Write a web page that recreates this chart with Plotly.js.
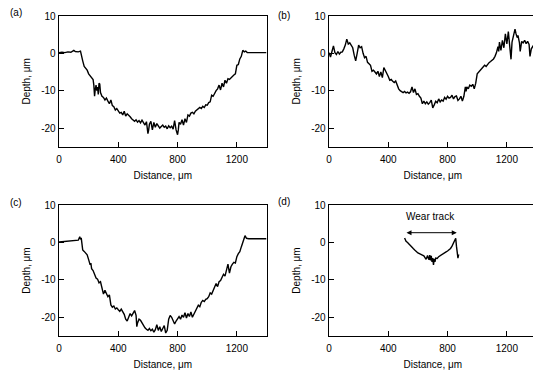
<!DOCTYPE html>
<html>
<head>
<meta charset="utf-8">
<script src="https://cdn.plot.ly/plotly-3.0.1.min.js"></script>
<style>
html,body{margin:0;padding:0;overflow:hidden;background:#fff;}
#chart{width:540px;height:370px;}
</style>
</head>
<body>
<div id="chart"></div>
<script>
// Panel (a)
var xA = [0,20,40,60,80,100,110,130,145,150,160,170,180,190,200,210,220,230,235,240,245,250,255,260,265,270,275,280,290,300,310,320,330,340,350,360,370,380,390,400,410,420,430,440,450,460,470,480,490,500,510,520,530,540,550,560,570,580,590,600,605,610,620,630,640,650,660,670,680,690,700,710,720,730,740,750,760,770,780,790,800,805,810,820,830,840,850,860,870,880,890,900,910,920,930,940,950,960,970,980,990,1000,1010,1020,1030,1040,1050,1060,1070,1080,1090,1100,1110,1120,1130,1140,1150,1160,1170,1180,1190,1200,1210,1220,1230,1240,1250,1260,1270,1300,1350,1400];
var yA = [0.2,0.3,0.2,0.4,0.3,0.8,0.5,0.4,0.6,-0.5,-2,-3.5,-4,-4.5,-5.5,-6,-6.5,-7,-8.5,-11.5,-9.5,-8.5,-10,-9,-11,-8,-8.2,-10.5,-11.5,-11.8,-12.5,-12,-12.8,-13.5,-12.5,-14,-14.3,-15.2,-14.8,-15.5,-16,-15.8,-16.5,-15.5,-16.8,-16.2,-16.5,-17,-17.5,-17.8,-18.2,-17.8,-18.4,-18,-18.6,-17.9,-18.5,-19.2,-18.3,-21.5,-20.5,-19,-18.2,-20.5,-18.5,-19.8,-18.8,-19.5,-20,-19.6,-19.2,-19.8,-19.5,-20.2,-19.4,-19.9,-19.5,-20.3,-18,-20.5,-21.8,-20.5,-18.5,-19,-17.8,-19.2,-17.5,-18.5,-16.5,-16.8,-16,-15.8,-16.2,-15.5,-15.2,-14.8,-14.5,-14.8,-14.2,-14.5,-13.8,-13.9,-13.2,-13,-11.2,-11.5,-10.5,-10,-9.5,-8.5,-9.8,-8,-9,-7.2,-8,-6.8,-7,-6.5,-6.2,-5.8,-5.5,-3.2,-3,-1.5,-0.8,0.8,0.4,0.6,0.2,0.2,0.2,0.2];

// Panel (b)
var xB = [0,10,20,30,40,50,60,70,80,90,100,110,120,125,130,140,150,160,170,180,190,200,210,220,230,240,250,260,270,280,290,300,310,320,330,340,350,360,370,380,390,400,410,420,430,440,450,460,470,480,490,500,510,520,530,540,550,560,570,580,590,600,610,620,630,640,650,660,670,680,690,700,710,720,730,740,750,760,770,780,790,800,810,820,830,840,850,860,870,880,890,900,910,920,925,930,940,950,960,970,980,990,1000,1010,1020,1030,1040,1050,1060,1070,1080,1090,1100,1110,1120,1130,1140,1145,1150,1160,1170,1180,1190,1200,1210,1220,1228,1235,1245,1255,1262,1270,1275,1285,1290,1300,1310,1320,1330,1340,1350,1356,1365,1375,1385,1395];
var yB = [0.2,-1,0.5,2,0.2,-0.3,0.5,-0.2,0.3,0.4,1.2,2.2,3.8,3.2,2.5,2.8,2.2,1.5,-0.5,-2,0,2.2,1.5,1.8,0,-1.2,-0.8,-2.4,-2.8,-3.2,-4.8,-4.5,-5,-5.5,-4.8,-6.2,-5,-6.5,-3.8,-4.5,-5.5,-6.2,-7.2,-7,-7.5,-7.8,-7.4,-8.5,-9.5,-10,-10.2,-10.5,-10.2,-10.6,-10.4,-10.7,-10.3,-9,-10.5,-9.5,-11,-10.8,-11.5,-12,-13.5,-12.8,-13.5,-13,-13.6,-13.2,-12.5,-14.6,-13.8,-12.8,-13.2,-12.2,-13,-12.5,-12.8,-11.8,-12.3,-11.5,-12,-11.8,-11.2,-12.2,-11.6,-11.4,-12.6,-12.2,-11.5,-12.8,-11.5,-9,-10.2,-9,-9.5,-8.5,-8.8,-8.3,-9.5,-8,-5.5,-5,-4.5,-4.2,-3.8,-3.2,-3.5,-2.8,-2.5,-2.2,-1.8,-1.5,-0.8,0.2,1.8,0.5,3,0.8,3.5,1.5,5.2,2.5,5.8,2,-1.6,3,4.5,6.5,5.2,4.2,4.8,2.8,0.5,3.2,2.8,3.5,2.6,3.2,2.4,-0.8,1.2,1.8,2.5,2];

// Panel (c)
var xC = [0,50,100,130,140,145,150,155,160,170,180,190,200,210,215,220,230,240,250,260,270,280,290,300,310,320,330,340,350,360,370,380,390,400,410,420,430,440,450,460,470,480,490,500,510,520,525,530,540,550,560,570,580,590,600,610,620,630,640,650,660,670,680,690,700,710,720,730,740,750,760,770,780,790,800,810,820,830,840,850,860,870,880,890,900,910,920,930,940,950,960,970,980,990,1000,1010,1020,1030,1040,1050,1060,1070,1080,1090,1100,1110,1120,1130,1140,1150,1160,1170,1180,1190,1200,1210,1220,1230,1240,1250,1255,1265,1280,1400];
var yC = [0.1,0.3,0.5,0.6,1.5,0.8,1.2,-0.3,-2,-2.4,-2.8,-3.3,-4.6,-6,-5.5,-7,-7.5,-8.8,-9.5,-9.8,-10.8,-10.5,-12.5,-13.8,-12.8,-13.5,-14.5,-14,-16.7,-17.3,-17,-17.8,-17.5,-18,-18.4,-17.8,-18.6,-19.2,-20.5,-21,-20,-19,-19.6,-18.8,-18.2,-19.5,-22.5,-21.5,-20.5,-20.8,-21.5,-22.3,-22.8,-23.2,-23.5,-23,-23.6,-23.2,-24,-23.3,-22,-23.5,-22.5,-23.8,-23,-22.2,-24.2,-23.5,-20.5,-19.5,-20,-20.8,-21.8,-21,-20.5,-19.8,-20.5,-19.4,-20,-18.8,-20.2,-19,-19.8,-18.6,-20,-19.2,-18,-17.5,-16.8,-17.2,-16,-15.5,-15.8,-15.2,-15,-14.5,-13.5,-13.8,-13,-12.2,-11,-11.8,-10.5,-10.2,-9.2,-8.5,-9,-7,-5.8,-8.2,-6.5,-5.8,-5.3,-5.5,-3.8,-3,-2.5,-1.2,0,0.6,1.8,1.1,1,1];

// Panel (d)
var xD = [510,520,530,540,550,560,570,580,590,600,610,620,630,640,650,655,660,665,670,675,680,685,690,695,700,705,710,715,720,730,740,750,760,770,780,790,800,810,820,830,840,850,855,860,865,870,875];
var yD = [1.2,0.3,0,-0.5,-0.9,-1.3,-1.7,-2.1,-2.5,-2.8,-3,-3.1,-3.4,-3.6,-4.1,-4.5,-4,-3.5,-4.2,-4.6,-3.4,-4.8,-3.6,-5.2,-4.2,-6,-4.4,-5.2,-4.2,-4.3,-3.8,-3.5,-3.2,-3,-2.8,-2.5,-2.3,-2,-1.6,-1,-0.3,0.6,1.1,-1,-2.5,-4.2,-3.2];

var panelLabels = ['(a)','(b)','(c)','(d)'];
var xTickVals = [0,400,800,1200];
var yTickVals = [-20,-10,0,10];
var yTickText = ['-20','-10','0','10'];
var xTitle = 'Distance, μm';
var yTitle = 'Depth, μm';
var arrowStart = 513, arrowEnd = 862, arrowY = 2.6;
var wearLabel = 'Wear track';

var FONT = {family: 'Liberation Sans, Arial, sans-serif', size: 10, color: '#000'};
var lineStyle = {color: '#000', width: 1.4};

var traces = [
  {x: xA, y: yA, xaxis: 'x', yaxis: 'y'},
  {x: xB, y: yB, xaxis: 'x2', yaxis: 'y2'},
  {x: xC, y: yC, xaxis: 'x3', yaxis: 'y3'},
  {x: xD, y: yD, xaxis: 'x4', yaxis: 'y4'}
].map(function(t){ t.type='scatter'; t.mode='lines'; t.line=lineStyle; t.showlegend=false; t.hoverinfo='skip'; return t; });

function xax(dom, anchor){
  return {domain: dom, anchor: anchor, range: [0,1400], tickvals: xTickVals, ticks: 'inside', ticklen: 5,
    tickwidth: 1, tickcolor: '#000', showline: true, mirror: true, linecolor: '#000', linewidth: 1.4,
    ticklabelstandoff: 3,
    showgrid: false, zeroline: false, tickfont: FONT, title: {text: xTitle, font: FONT, standoff: 8}};
}
function yax(dom, anchor){
  return {domain: dom, anchor: anchor, range: [-25,10], tickvals: yTickVals, ticktext: yTickText, ticks: 'inside', ticklen: 5,
    tickwidth: 1, tickcolor: '#000', showline: true, mirror: true, linecolor: '#000', linewidth: 1.4,
    showgrid: false, zeroline: false, tickfont: FONT, title: {text: yTitle, font: FONT, standoff: 8}};
}
var dL = [59/540, 266.5/540], dR = [329/540, 536.5/540];
var dT = [1-146.7/370, 1-16/370], dB = [1-336/370, 1-205/370];

var annotations = [
  {xref:'paper', yref:'paper', x: 8/540, y: 1-13/370, text: panelLabels[0], showarrow:false, xanchor:'left', yanchor:'middle', font: FONT},
  {xref:'paper', yref:'paper', x: 276/540, y: 1-15/370, text: panelLabels[1], showarrow:false, xanchor:'left', yanchor:'middle', font: FONT},
  {xref:'paper', yref:'paper', x: 8/540, y: 1-202/370, text: panelLabels[2], showarrow:false, xanchor:'left', yanchor:'middle', font: FONT},
  {xref:'paper', yref:'paper', x: 276/540, y: 1-201/370, text: panelLabels[3], showarrow:false, xanchor:'left', yanchor:'middle', font: FONT},
  {xref:'x4', yref:'y4', x: arrowEnd, y: arrowY, ax: arrowStart, ay: arrowY, axref:'x4', ayref:'y4', text:'',
   showarrow:true, arrowhead:2, startarrowhead:2, arrowside:'end+start', arrowsize:1, startarrowsize:1, arrowwidth:1, arrowcolor:'#000', standoff:0, startstandoff:0},
  {xref:'x4', yref:'y4', x: (arrowStart+arrowEnd)/2, y: 6.9, text: wearLabel, showarrow:false, font: FONT}
];

var layout = {
  width: 540, height: 370, margin: {l:0, r:0, t:0, b:0},
  paper_bgcolor: '#fff', plot_bgcolor: '#fff', font: FONT, showlegend: false,
  xaxis: xax(dL,'y'), yaxis: yax(dT,'x'),
  xaxis2: xax(dR,'y2'), yaxis2: yax(dT,'x2'),
  xaxis3: xax(dL,'y3'), yaxis3: yax(dB,'x3'),
  xaxis4: xax(dR,'y4'), yaxis4: yax(dB,'x4'),
  annotations: annotations
};
Plotly.newPlot('chart', traces, layout, {staticPlot: true, displayModeBar: false});
</script>
</body>
</html>
